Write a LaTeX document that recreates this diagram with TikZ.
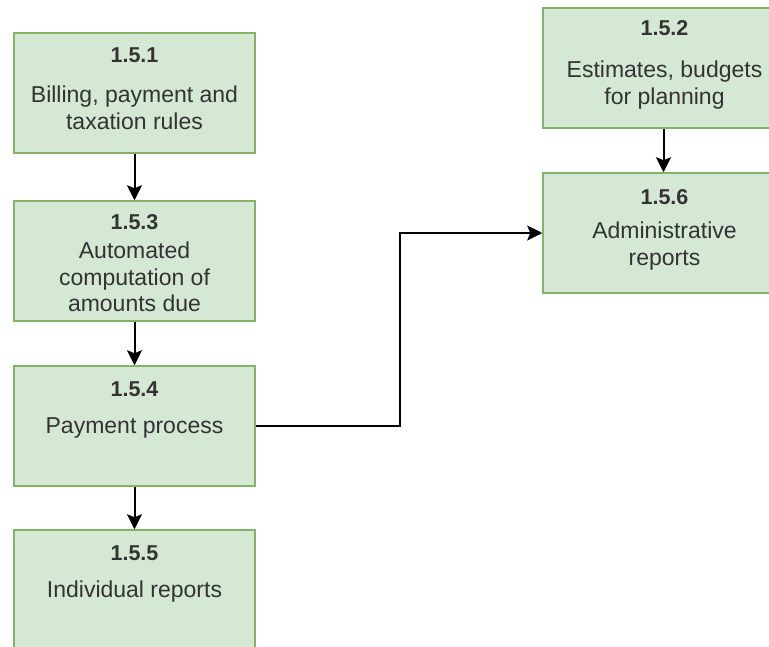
\documentclass[tikz,border=0pt]{standalone}
\usepackage{fontspec}
\setmainfont{Liberation Sans}
\usetikzlibrary{arrows.meta}
\definecolor{boxfill}{HTML}{D5E8D4}
\definecolor{boxline}{HTML}{82B366}
\definecolor{txt}{HTML}{333333}
\tikzset{
  procbox/.style={draw=boxline, fill=boxfill, line width=1.5pt, minimum width=241pt, minimum height=120pt, inner sep=0pt, anchor=center},
  numtxt/.style={font=\fontsize{21.5}{25}\selectfont\bfseries, text=txt, inner sep=0pt, anchor=center},
  bodytxt/.style={font=\fontsize{23}{26.5}\selectfont, text=txt, inner sep=0pt, anchor=center, align=center},
  flow/.style={draw=black, line width=2pt, -{Stealth[width=15pt,length=15pt,inset=3pt]}}
}
\begin{document}
\begin{tikzpicture}[x=1pt,y=-1pt]
\useasboundingbox (0,0) rectangle (769,646);
% boxes
\node[procbox] (b151) at (134.5,93) {};
\node[procbox] (b153) at (134.5,261) {};
\node[procbox] (b154) at (134.5,426) {};
\node[procbox] (b155) at (134.5,590) {};
\node[procbox] (b152) at (663.5,68) {};
\node[procbox] (b156) at (663.5,233) {};
% texts
\node[numtxt] (n151) at (134.5,55) {1.5.1};
\node[bodytxt] (t151) at (134.5,108) {Billing, payment and\\taxation rules};
\node[numtxt] (n153) at (134.5,222) {1.5.3};
\node[bodytxt] (t153) at (134.5,277) {Automated\\computation of\\amounts due};
\node[numtxt] (n154) at (134.5,389) {1.5.4};
\node[bodytxt] (t154) at (134.5,428) {Payment process};
\node[numtxt] (n155) at (134.5,553) {1.5.5};
\node[bodytxt] (t155) at (134.5,592) {Individual reports};
\node[numtxt] (n152) at (664.5,28) {1.5.2};
\node[bodytxt] (t152) at (664.5,85) {Estimates, budgets\\for planning};
\node[numtxt] (n156) at (664.5,197) {1.5.6};
\node[bodytxt] (t156) at (664.5,246) {Administrative\\reports};
% connectors
\draw[flow] (b151.south) -- (b153.north);
\draw[flow] (b153.south) -- (b154.north);
\draw[flow] (b154.south) -- (b155.north);
\draw[flow] (b152.south) -- (b156.north);
\draw[flow] (b154.east) -| (400,233) -- (b156.west);
\end{tikzpicture}
\end{document}
